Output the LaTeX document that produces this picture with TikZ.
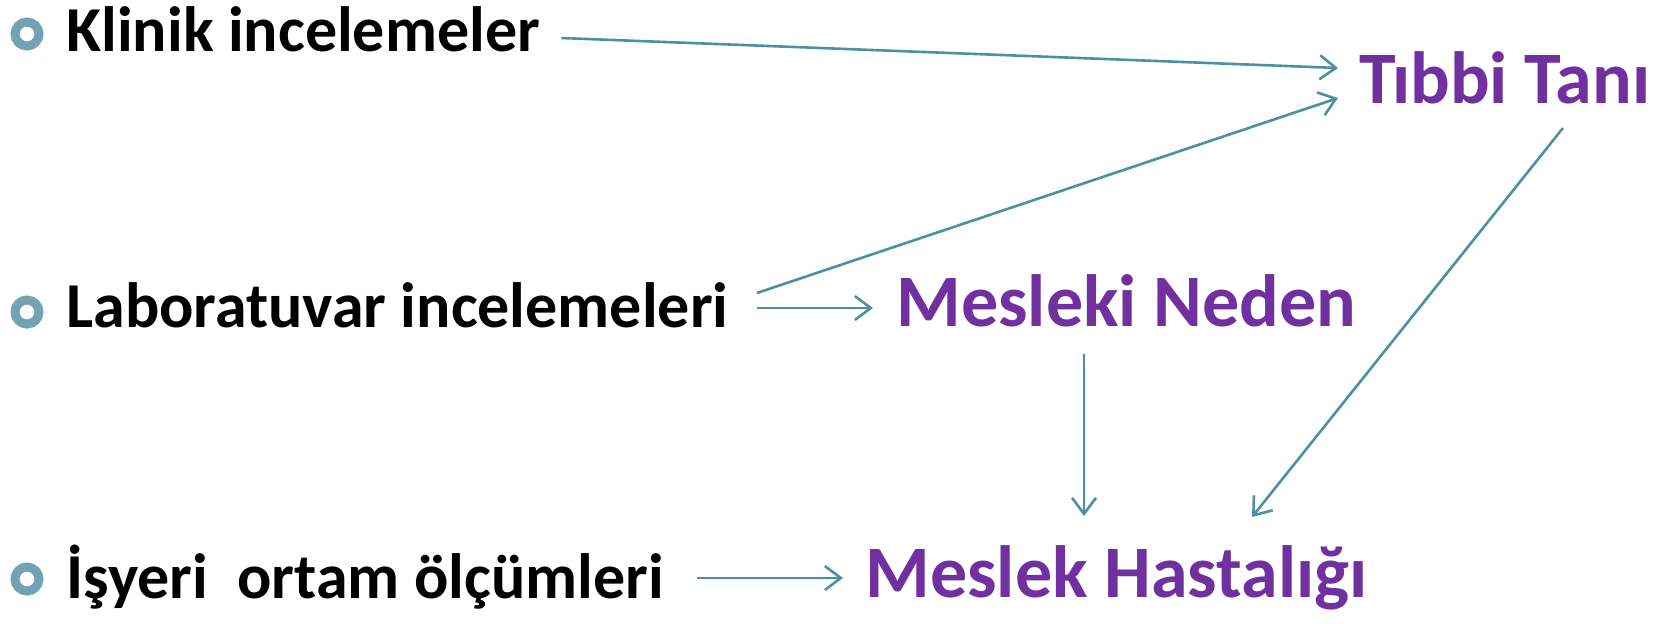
\documentclass[tikz,border=0pt]{standalone}
\usepackage{fontspec}
\setmainfont{Carlito}
\usetikzlibrary{arrows.meta}
\definecolor{okmavi}{RGB}{75,145,162}
\definecolor{madde}{RGB}{114,163,178}
\definecolor{mor}{RGB}{112,48,160}
\begin{document}
\begin{tikzpicture}[x=0.5pt,y=-0.5pt,
  madde/.style={draw=madde,line width=4.5pt,circle,minimum size=12pt,inner sep=0pt},
  kaynak/.style={anchor=base west,inner sep=0pt,font=\bfseries\fontsize{32}{38}\selectfont},
  sonuc/.style={anchor=base west,inner sep=0pt,text=mor,font=\bfseries\fontsize{37}{44}\selectfont},
  ok/.style={draw=okmavi,line width=1.3pt,-{Straight Barb[length=8pt,width=12pt,line width=1.3pt]}}]
\useasboundingbox (0,0) rectangle (1671,623);
% maddeler
\node[madde] (m1) at (27,34) {};
\node[madde] (m2) at (27,312) {};
\node[madde] (m3) at (27,579) {};
% sol taraf
\node[kaynak] (klinik) at (66,51) {Klinik incelemeler};
\node[kaynak] (lab) at (66,327) {Laboratuvar incelemeleri};
\node[kaynak] (isyeri) at (66,598) {İşyeri\ \ ortam ölçümleri};
% sağ taraf
\node[sonuc] (tani) at (1359,103) {Tıbbi Tanı};
\node[sonuc] (neden) at (896,326) {Mesleki Neden};
\node[sonuc] (hastalik) at (865,597) {Meslek Hastalığı};
% oklar
\draw[ok] ([xshift=10.5pt,yshift=6.5pt]klinik.base east) -- ([xshift=-10.5pt,yshift=17.5pt]tani.base west);
\draw[ok] ([xshift=14pt,yshift=17pt]lab.base east) -- ([xshift=-10.5pt,yshift=2.5pt]tani.base west);
\draw[ok] ([xshift=14pt,yshift=9.5pt]lab.base east) -- ([xshift=-11.5pt,yshift=9pt]neden.base west);
\draw[ok] ([xshift=102pt,yshift=-12.5pt]tani.base west) -- ([xshift=193.5pt,yshift=40pt]hastalik.base west);
\draw[ok] ([xshift=94pt,yshift=-14pt]neden.base west) -- ([xshift=109.5pt,yshift=40.5pt]hastalik.base west);
\draw[ok] ([xshift=16.5pt,yshift=10pt]isyeri.base east) -- ([xshift=-11pt,yshift=9.5pt]hastalik.base west);
\end{tikzpicture}
\end{document}
